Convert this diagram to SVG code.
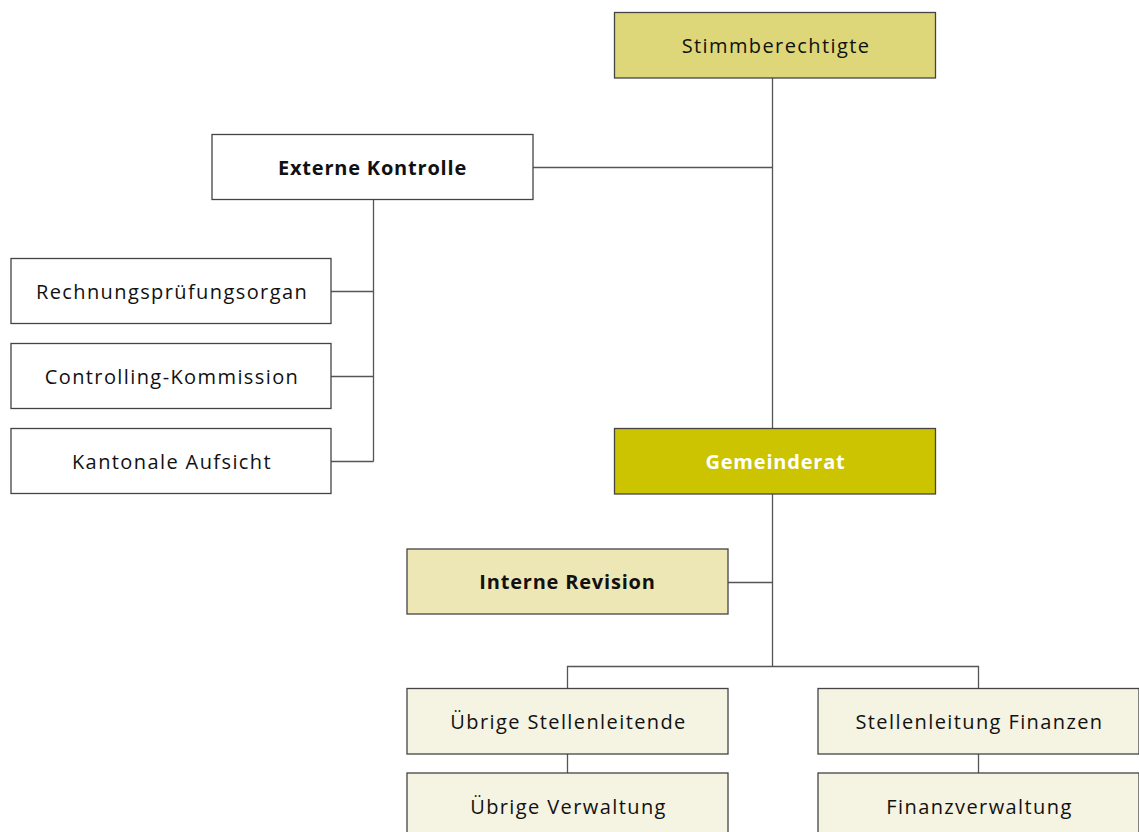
<svg xmlns="http://www.w3.org/2000/svg" width="1139" height="832" viewBox="0 0 1139 832">
<style>
.box{stroke:#444;stroke-width:1.3}
.t{font-family:"Open Sans","DejaVu Sans",sans-serif;font-size:20px;fill:#111;text-anchor:middle;letter-spacing:1.4px}
.b{font-weight:bold;letter-spacing:0.8px}
.ln{stroke:#555;stroke-width:1.3;fill:none}
</style>
<rect width="1139" height="832" fill="#fff"/>
<g id="connectors">
<path class="ln" d="M772.5 78V428"/>
<path class="ln" d="M533 167.5H772.5"/>
<path class="ln" d="M373.5 200V461.5"/>
<path class="ln" d="M331 291.5H373.5M331 376.5H373.5M331 461.5H373.5"/>
<path class="ln" d="M772.5 494V666.5"/>
<path class="ln" d="M728 582.5H772.5"/>
<path class="ln" d="M567.5 688V666.5H978.5V688"/>
<path class="ln" d="M567.5 754V773M978.5 754V773"/>
</g>
<g id="stimmberechtigte"><rect class="box" x="614.5" y="12.5" width="321" height="65.5" fill="#DDD77A"/><text class="t" x="776" y="53">Stimmberechtigte</text></g>
<g id="externe"><rect class="box" x="212" y="134.5" width="321" height="65" fill="#fff"/><text class="t b" x="372.5" y="175">Externe Kontrolle</text></g>
<g id="rechnung"><rect class="box" x="11" y="258.5" width="320" height="65" fill="#fff"/><text class="t" x="172" y="299">Rechnungsprüfungsorgan</text></g>
<g id="controlling"><rect class="box" x="11" y="343.5" width="320" height="65" fill="#fff"/><text class="t" x="172" y="384">Controlling-Kommission</text></g>
<g id="kantonal"><rect class="box" x="11" y="428.5" width="320" height="65" fill="#fff"/><text class="t" x="172" y="469">Kantonale Aufsicht</text></g>
<g id="gemeinderat"><rect class="box" x="614.5" y="428.5" width="321" height="65.5" fill="#CCC400"/><text class="t b" x="775.5" y="469" style="fill:#fff">Gemeinderat</text></g>
<g id="revision"><rect class="box" x="407" y="549" width="321" height="65" fill="#EDE7B5"/><text class="t b" x="567.5" y="589">Interne Revision</text></g>
<g id="stellenleitende"><rect class="box" x="407" y="688.5" width="321" height="65.5" fill="#F5F3E1"/><text class="t" x="568.5" y="729">Übrige Stellenleitende</text></g>
<g id="finanzen"><rect class="box" x="818" y="688.5" width="321" height="65.5" fill="#F5F3E1"/><text class="t" x="979.5" y="729">Stellenleitung Finanzen</text></g>
<g id="verwaltung"><rect class="box" x="407" y="773" width="321" height="70" fill="#F5F3E1"/><text class="t" x="568.5" y="814">Übrige Verwaltung</text></g>
<g id="finanzverwaltung"><rect class="box" x="818" y="773" width="321" height="70" fill="#F5F3E1"/><text class="t" x="979.5" y="814">Finanzverwaltung</text></g>
</svg>
